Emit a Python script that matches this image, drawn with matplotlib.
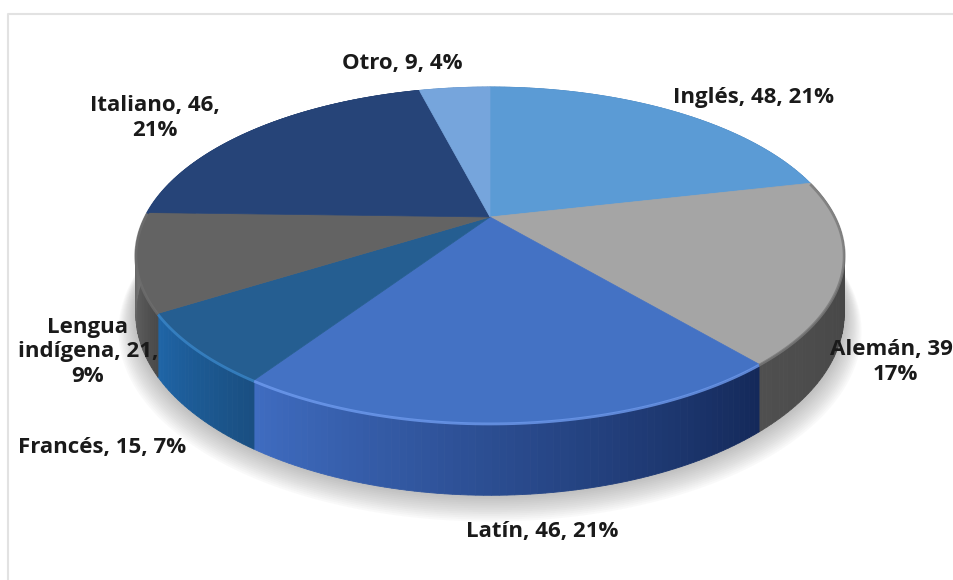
import numpy as np
from matplotlib import pyplot as plt
from matplotlib.colors import to_rgb

names = ['Inglés', 'Alemán', 'Latín', 'Francés', 'Lengua indígena', 'Italiano', 'Otro']
values = [48, 39, 46, 15, 21, 46, 9]
percents = [21, 17, 21, 7, 9, 21, 4]
top_colors = ['#5B9BD5', '#A5A5A5', '#4472C4', '#255E91', '#636363', '#264478', '#76A5DC']
wall_start = ['#4F86BA', '#404040', '#14295A', '#1A4F82', '#4A4A4A', '#1E3660', '#5F8FC0']
wall_end = ['#4F86BA', '#4F4F4F', '#3F6CC0', '#1F66A8', '#7A7A7A', '#1E3660', '#5F8FC0']
rim_colors = ['#5B9BD5', '#7A7A7A', '#6F9CF0', '#3A86C8', '#6E6E6E', '#264478', '#76A5DC']

# where the pie sits on the canvas, in pixels
cx, cy = 490, 217
rx, ry = 345, 159.4
k = 0.226
depth = 56


def project(a):
    # a is degrees clockwise from the top of the pie
    t = np.radians(a)
    px = np.sin(t)
    py = np.cos(t)
    d = 1 + k * py
    return cx + rx * px / d, cy - ry * py / d, depth / d


fig = plt.figure(figsize=(9.54, 5.8), dpi=100)
ax = fig.add_axes([0, 0, 1, 1])
ax.set_xlim(0, 954)
ax.set_ylim(580, 0)
ax.axis('off')
plt.rcParams['font.family'] = ['Open Sans', 'DejaVu Sans']

# chart frame
ax.plot([8.5, 8.5, 954], [580, 13.5, 13.5], color='#E2E2E2', lw=1.5)

# shadow under the pie
full = np.linspace(0, 360, 361)
sx, sy, sd = project(full)
for g in range(1, 15):
    f = 1 + g * 0.0035
    ax.fill(cx + (sx - cx) * f, cy + (sy + sd - cy) * f + g * 0.9,
            color='#707070', alpha=0.035, lw=0, zorder=1)

edges = np.cumsum([0] + values) / sum(values) * 360

# side wall, strip by strip
for i in range(len(values)):
    angles = np.arange(edges[i], edges[i + 1] + 0.01, 1.0)
    if angles[-1] < edges[i + 1]:
        angles = np.append(angles, edges[i + 1])
    c0 = np.array(to_rgb(wall_start[i]))
    c1 = np.array(to_rgb(wall_end[i]))
    for j in range(len(angles) - 1):
        x0, y0, d0 = project(angles[j])
        x1, y1, d1 = project(angles[j + 1])
        u = j / max(len(angles) - 2, 1)
        c = c0 + (c1 - c0) * u
        ax.fill([x0, x1, x1, x0], [y0, y1, y1 + d1, y0 + d0],
                color=c, lw=0.6, zorder=2)

# top face and its lit rim
for i in range(len(values)):
    angles = np.linspace(edges[i], edges[i + 1], 80)
    x, y, d = project(angles)
    ax.fill(np.r_[cx, x], np.r_[cy, y], color=top_colors[i], lw=0.5, zorder=3)
    if 90 < edges[i + 1] and edges[i] < 275:
        ax.plot(x, y + 1, color=rim_colors[i], lw=2, alpha=0.8,
                solid_capstyle='butt', zorder=4)

labels = ['%s, %d, %d%%' % (n, v, p) for n, v, p in zip(names, values, percents)]
labels[1] = 'Alemán, 39,\n17%'
labels[4] = 'Lengua\nindígena, 21,\n9%'
labels[5] = 'Italiano, 46,\n21%'
label_pos = [(754, 97), (895, 362), (542, 531), (102, 447), (88, 352), (155, 118), (402, 63)]
for s, (lx, ly) in zip(labels, label_pos):
    ax.text(lx, ly, s, ha='center', va='center', fontsize=16, fontweight='bold',
            color='#1A1A1A', linespacing=1.25, zorder=6)

fig.savefig('out.png', dpi=100)
